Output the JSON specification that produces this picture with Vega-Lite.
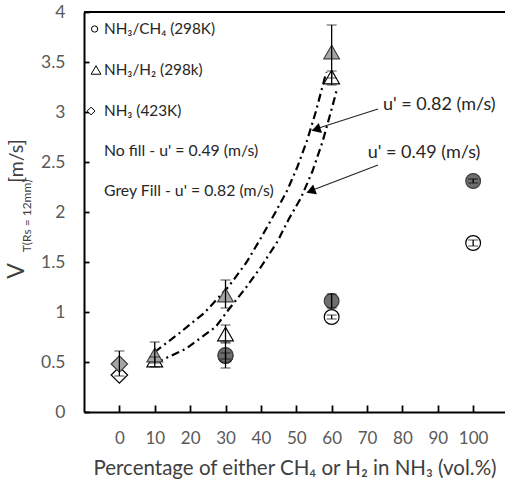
{
  "$schema": "https://vega.github.io/schema/vega-lite/v6.json",
  "width": 421,
  "height": 400,
  "autosize": "none",
  "padding": {"left": 84, "top": 12, "right": 0, "bottom": 73},
  "background": "white",
  "config": {
    "font": "Lato",
    "view": {"stroke": null},
    "text": {"font": "Lato"}
  },
  "datasets": {
    "pts": [
      {"pct": 0, "v": 0.37, "lo": null, "hi": null, "gas": "NH3", "u": "0.49", "series": "NH3 0.49"},
      {"pct": 10, "v": 0.52, "lo": 0.49, "hi": 0.55, "gas": "H2", "u": "0.49", "series": "H2 0.49"},
      {"pct": 30, "v": 0.78, "lo": 0.69, "hi": 0.87, "gas": "H2", "u": "0.49", "series": "H2 0.49"},
      {"pct": 60, "v": 3.35, "lo": 3.27, "hi": 3.41, "gas": "H2", "u": "0.49", "series": "H2 0.49"},
      {"pct": 30, "v": 0.56, "lo": 0.53, "hi": 0.59, "gas": "CH4", "u": "0.49", "series": "CH4 0.49"},
      {"pct": 60, "v": 0.95, "lo": 0.93, "hi": 0.97, "gas": "CH4", "u": "0.49", "series": "CH4 0.49"},
      {"pct": 100, "v": 1.69, "lo": 1.66, "hi": 1.72, "gas": "CH4", "u": "0.49", "series": "CH4 0.49"},
      {"pct": 0, "v": 0.48, "lo": 0.36, "hi": 0.61, "gas": "NH3", "u": "0.82", "series": "NH3 0.82"},
      {"pct": 10, "v": 0.57, "lo": 0.45, "hi": 0.70, "gas": "H2", "u": "0.82", "series": "H2 0.82"},
      {"pct": 30, "v": 1.17, "lo": 1.04, "hi": 1.32, "gas": "H2", "u": "0.82", "series": "H2 0.82"},
      {"pct": 60, "v": 3.60, "lo": 3.34, "hi": 3.87, "gas": "H2", "u": "0.82", "series": "H2 0.82"},
      {"pct": 30, "v": 0.57, "lo": 0.44, "hi": 0.70, "gas": "CH4", "u": "0.82", "series": "CH4 0.82"},
      {"pct": 60, "v": 1.11, "lo": 1.04, "hi": 1.18, "gas": "CH4", "u": "0.82", "series": "CH4 0.82"},
      {"pct": 100, "v": 2.31, "lo": 2.29, "hi": 2.33, "gas": "CH4", "u": "0.82", "series": "CH4 0.82"}
    ],
    "trend": [
      {"u": "0.82", "pct": 10, "v": 0.60},
      {"u": "0.82", "pct": 17, "v": 0.79},
      {"u": "0.82", "pct": 24, "v": 0.99},
      {"u": "0.82", "pct": 31, "v": 1.26},
      {"u": "0.82", "pct": 36, "v": 1.50},
      {"u": "0.82", "pct": 40, "v": 1.74},
      {"u": "0.82", "pct": 44, "v": 1.99},
      {"u": "0.82", "pct": 47.5, "v": 2.22},
      {"u": "0.82", "pct": 50.3, "v": 2.45},
      {"u": "0.82", "pct": 53.1, "v": 2.72},
      {"u": "0.82", "pct": 55.5, "v": 3.00},
      {"u": "0.82", "pct": 57, "v": 3.20},
      {"u": "0.82", "pct": 58.5, "v": 3.40},
      {"u": "0.49", "pct": 10.2, "v": 0.49},
      {"u": "0.49", "pct": 18.7, "v": 0.63},
      {"u": "0.49", "pct": 27.2, "v": 0.85},
      {"u": "0.49", "pct": 31, "v": 1.03},
      {"u": "0.49", "pct": 35.7, "v": 1.24},
      {"u": "0.49", "pct": 40, "v": 1.45},
      {"u": "0.49", "pct": 44.6, "v": 1.70},
      {"u": "0.49", "pct": 47.9, "v": 1.93},
      {"u": "0.49", "pct": 51.3, "v": 2.14},
      {"u": "0.49", "pct": 54.5, "v": 2.40},
      {"u": "0.49", "pct": 57.4, "v": 2.70},
      {"u": "0.49", "pct": 59.7, "v": 2.99},
      {"u": "0.49", "pct": 61.6, "v": 3.24}
    ]
  },
  "layer": [
    {
      "data": {"name": "trend"},
      "mark": {"type": "line", "color": "black", "strokeWidth": 2.2, "strokeDash": [8, 4, 2, 4], "strokeCap": "butt"},
      "encoding": {
        "x": {
          "field": "pct", "type": "quantitative",
          "scale": {"domain": [-10, 109], "nice": false, "zero": false},
          "axis": {
            "values": [0, 10, 20, 30, 40, 50, 60, 70, 80, 90, 100],
            "grid": false,
            "tickSize": -7, "tickColor": "black", "tickWidth": 1.8,
            "domainColor": "black", "domainWidth": 2,
            "labelFontSize": 17, "labelColor": "#595959", "labelPadding": 25,
            "title": "Percentage of either CH₄ or H₂ in NH₃ (vol.%)",
            "titleFontSize": 20.5, "titleFontWeight": "normal", "titleColor": "#404040",
            "titlePadding": 12
          }
        },
        "y": {
          "field": "v", "type": "quantitative",
          "scale": {"domain": [0, 4], "nice": false},
          "axis": {
            "values": [0, 0.5, 1, 1.5, 2, 2.5, 3, 3.5, 4],
            "format": "~g",
            "grid": false,
            "tickSize": -5, "tickColor": "black", "tickWidth": 1.8,
            "domainColor": "black", "domainWidth": 2,
            "labelFontSize": 17.5, "labelColor": "#595959", "labelPadding": 24,
            "title": null
          }
        },
        "detail": {"field": "u"},
        "order": {"field": "pct", "type": "quantitative"}
      }
    },
    {
      "mark": {"type": "rule", "color": "black", "strokeWidth": 2},
      "data": {"values": [{}]},
      "encoding": {"y": {"datum": 4, "type": "quantitative"}}
    },
    {
      "data": {"name": "pts"},
      "mark": {"type": "point", "filled": true, "opacity": 1, "strokeWidth": 1.2},
      "encoding": {
        "x": {"field": "pct", "type": "quantitative"},
        "y": {"field": "v", "type": "quantitative"},
        "shape": {
          "field": "gas", "type": "nominal",
          "scale": {"domain": ["CH4", "H2", "NH3"], "range": ["circle", "triangle-up", "diamond"]},
          "legend": null
        },
        "size": {
          "field": "gas", "type": "nominal",
          "scale": {"domain": ["CH4", "H2", "NH3"], "range": [220, 270, 190]},
          "legend": null
        },
        "fill": {
          "field": "series", "type": "nominal",
          "scale": {
            "domain": ["CH4 0.49", "CH4 0.82", "H2 0.49", "H2 0.82", "NH3 0.49", "NH3 0.82"],
            "range": ["#ffffff", "#6e6e6e", "#ffffff", "#a6a6a6", "#ffffff", "#a6a6a6"]
          },
          "legend": null
        },
        "stroke": {
          "field": "u", "type": "nominal",
          "scale": {"domain": ["0.49", "0.82"], "range": ["#000000", "#404040"]},
          "legend": null
        }
      }
    },
    {
      "data": {"name": "pts"},
      "transform": [{"filter": "datum.lo != null"}],
      "mark": {
        "type": "errorbar",
        "ticks": {"size": 10, "color": "black", "strokeWidth": 1.3},
        "rule": {"color": "black", "strokeWidth": 1.3}
      },
      "encoding": {
        "x": {"field": "pct", "type": "quantitative"},
        "y": {"field": "lo", "type": "quantitative"},
        "y2": {"field": "hi"}
      }
    },
    {
      "data": {"values": [{}]},
      "mark": {"type": "point", "shape": "circle", "size": 40, "stroke": "black", "strokeWidth": 1, "fill": "white", "filled": true, "opacity": 1},
      "encoding": {"x": {"datum": -7.0, "type": "quantitative"}, "y": {"datum": 3.83, "type": "quantitative"}}
    },
    {
      "data": {"values": [{}]},
      "mark": {"type": "point", "shape": "triangle-up", "size": 95, "stroke": "black", "strokeWidth": 1, "fill": "white", "filled": true, "opacity": 1},
      "encoding": {"x": {"datum": -6.6, "type": "quantitative"}, "y": {"datum": 3.42, "type": "quantitative"}}
    },
    {
      "data": {"values": [{}]},
      "mark": {"type": "point", "shape": "diamond", "size": 60, "stroke": "black", "strokeWidth": 1, "fill": "white", "filled": true, "opacity": 1},
      "encoding": {"x": {"datum": -8.0, "type": "quantitative"}, "y": {"datum": 3.01, "type": "quantitative"}}
    },
    {
      "data": {"values": [{}]},
      "mark": {"type": "text", "text": "NH₃/CH₄ (298K)", "align": "left", "baseline": "middle", "fontSize": 15.3, "color": "#262626"},
      "encoding": {"x": {"datum": -4.35, "type": "quantitative"}, "y": {"datum": 3.83, "type": "quantitative"}}
    },
    {
      "data": {"values": [{}]},
      "mark": {"type": "text", "text": "NH₃/H₂ (298k)", "align": "left", "baseline": "middle", "fontSize": 15.3, "color": "#262626"},
      "encoding": {"x": {"datum": -4.35, "type": "quantitative"}, "y": {"datum": 3.42, "type": "quantitative"}}
    },
    {
      "data": {"values": [{}]},
      "mark": {"type": "text", "text": "NH₃ (423K)", "align": "left", "baseline": "middle", "fontSize": 15.3, "color": "#262626"},
      "encoding": {"x": {"datum": -4.35, "type": "quantitative"}, "y": {"datum": 3.01, "type": "quantitative"}}
    },
    {
      "data": {"values": [{}]},
      "mark": {"type": "text", "text": "No fill - u' = 0.49 (m/s)", "align": "left", "baseline": "middle", "fontSize": 15.8, "color": "#262626"},
      "encoding": {"x": {"datum": -4.35, "type": "quantitative"}, "y": {"datum": 2.61, "type": "quantitative"}}
    },
    {
      "data": {"values": [{}]},
      "mark": {"type": "text", "text": "Grey Fill - u' = 0.82 (m/s)", "align": "left", "baseline": "middle", "fontSize": 15.8, "color": "#262626"},
      "encoding": {"x": {"datum": -4.35, "type": "quantitative"}, "y": {"datum": 2.21, "type": "quantitative"}}
    },
    {
      "data": {"values": [{}]},
      "mark": {"type": "text", "text": "u' = 0.82 (m/s)", "align": "left", "baseline": "middle", "fontSize": 18, "color": "#262626"},
      "encoding": {"x": {"datum": 74.5, "type": "quantitative"}, "y": {"datum": 3.07, "type": "quantitative"}}
    },
    {
      "data": {"values": [{}]},
      "mark": {"type": "text", "text": "u' = 0.49 (m/s)", "align": "left", "baseline": "middle", "fontSize": 18, "color": "#262626"},
      "encoding": {"x": {"datum": 70.2, "type": "quantitative"}, "y": {"datum": 2.59, "type": "quantitative"}}
    },
    {
      "data": {"values": [{}]},
      "mark": {"type": "rule", "color": "#262626", "strokeWidth": 1.2},
      "encoding": {
        "x": {"datum": 73.1, "type": "quantitative"}, "y": {"datum": 3.03, "type": "quantitative"},
        "x2": {"datum": 54.6}, "y2": {"datum": 2.82}
      }
    },
    {
      "data": {"values": [{}]},
      "mark": {"type": "rule", "color": "#262626", "strokeWidth": 1.2},
      "encoding": {
        "x": {"datum": 73.1, "type": "quantitative"}, "y": {"datum": 2.47, "type": "quantitative"},
        "x2": {"datum": 53.2}, "y2": {"datum": 2.20}
      }
    },
    {
      "data": {"values": [{}]},
      "mark": {"type": "point", "shape": "triangle-left", "size": 110, "angle": 342, "fill": "black", "stroke": null, "filled": true, "opacity": 1},
      "encoding": {"x": {"datum": 55.6, "type": "quantitative"}, "y": {"datum": 2.826, "type": "quantitative"}}
    },
    {
      "data": {"values": [{}]},
      "mark": {"type": "point", "shape": "triangle-left", "size": 110, "angle": 339, "fill": "black", "stroke": null, "filled": true, "opacity": 1},
      "encoding": {"x": {"datum": 54.1, "type": "quantitative"}, "y": {"datum": 2.21, "type": "quantitative"}}
    },
    {
      "data": {"values": [{}]},
      "mark": {"type": "text", "text": "V", "angle": 270, "align": "center", "baseline": "middle", "fontSize": 23, "color": "#404040"},
      "encoding": {"x": {"datum": -28.8, "type": "quantitative"}, "y": {"datum": 1.41, "type": "quantitative"}}
    },
    {
      "data": {"values": [{}]},
      "mark": {"type": "text", "text": "T(Rs = 12mm)", "angle": 270, "align": "center", "baseline": "middle", "fontSize": 12, "color": "#404040"},
      "encoding": {"x": {"datum": -26.1, "type": "quantitative"}, "y": {"datum": 1.96, "type": "quantitative"}}
    },
    {
      "data": {"values": [{}]},
      "mark": {"type": "text", "text": "[m/s]", "angle": 270, "align": "center", "baseline": "middle", "fontSize": 19.5, "color": "#404040"},
      "encoding": {"x": {"datum": -28.8, "type": "quantitative"}, "y": {"datum": 2.51, "type": "quantitative"}}
    }
  ]
}
